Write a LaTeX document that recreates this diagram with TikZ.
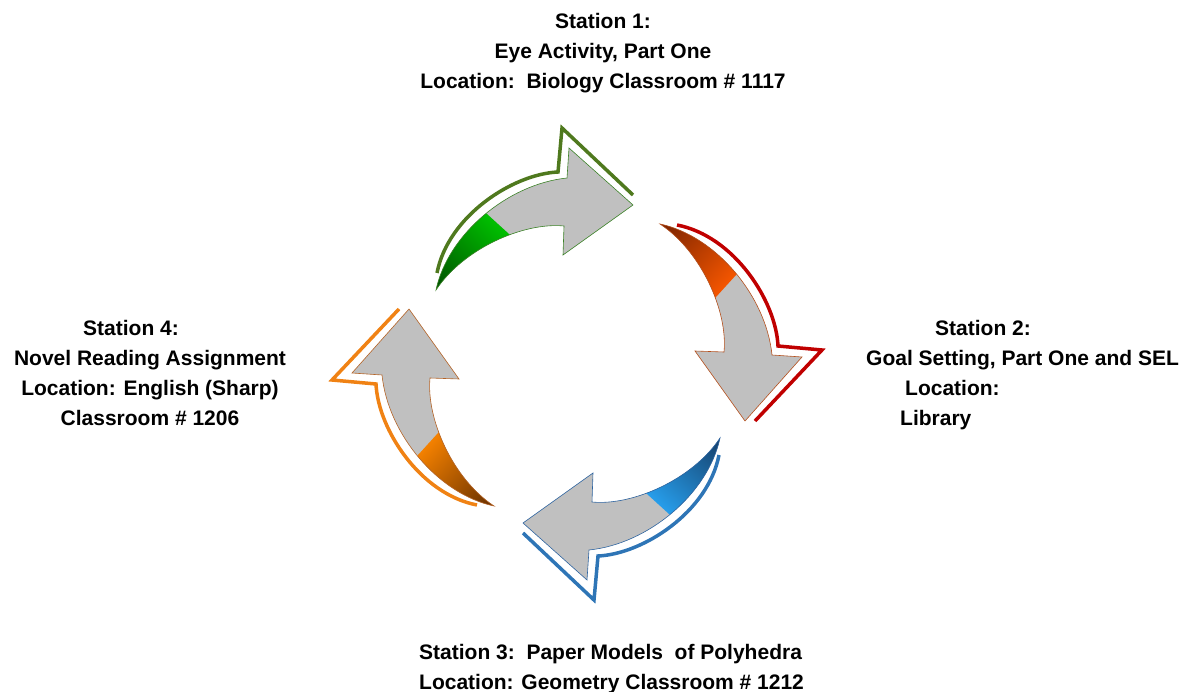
\documentclass[tikz,border=0pt]{standalone}
\usepackage{fontspec}
\setmainfont{Liberation Sans}
\usetikzlibrary{calc}

\definecolor{silver}{RGB}{192,192,192}
\definecolor{grdark}{RGB}{0,70,0}
\definecolor{grlight}{RGB}{0,200,0}
\definecolor{groutline}{RGB}{79,121,30}
\definecolor{gredge}{RGB}{60,130,40}
\definecolor{rddark}{RGB}{110,30,0}
\definecolor{rdlight}{RGB}{255,90,0}
\definecolor{rdoutline}{RGB}{192,0,0}
\definecolor{rdedge}{RGB}{180,80,30}
\definecolor{bldark}{RGB}{20,55,95}
\definecolor{bllight}{RGB}{40,165,245}
\definecolor{bloutline}{RGB}{46,117,182}
\definecolor{bledge}{RGB}{46,100,160}
\definecolor{ordark}{RGB}{90,40,0}
\definecolor{orlight}{RGB}{255,135,0}
\definecolor{oroutline}{RGB}{240,130,20}
\definecolor{oredge}{RGB}{180,100,40}

% body of one curved arrow, centre of the cycle at the origin
\newcommand{\cyclebody}{(-142,-74) .. controls (-130,-130) and (-70,-180) .. (-11,-186) -- (-9,-216) -- (55,-159) -- (-15,-109) -- (-14,-138) .. controls (-55,-142) and (-115,-115) .. cycle}

% #1 centre, #2 rotation, #3 dark, #4 bright, #5 outline, #6 edge, #7 shading angle
\newcommand{\cyclearrow}[7]{%
  \begin{scope}[shift={#1}, rotate=#2]
    \fill[silver] \cyclebody;
    \begin{scope}
      \clip \cyclebody;
      \shade[top color=#4, bottom color=#3, shading angle=#7] (-165,-70) -- (-102,-160) -- (-58,-120) -- (-140,-55) -- cycle;
    \end{scope}
    \draw[#6, line width=0.6pt] \cyclebody;
    \draw[#5, line width=3.5pt] (-141,-91) .. controls (-130,-148) and (-65,-190) .. (-20,-192) -- (-16,-236) -- (55,-169);
  \end{scope}}

\begin{document}
\begin{tikzpicture}[x=1pt,y=-1pt]
  \tikzstyle{station}=[font=\fontsize{21}{30}\selectfont\bfseries, inner sep=0pt, anchor=base]
  \useasboundingbox (0,0) rectangle (1188,692);
  \cyclearrow{(578,364)}{0}{grdark}{grlight}{groutline}{gredge}{-43}
  \cyclearrow{(586,366)}{-90}{rddark}{rdlight}{rdoutline}{rdedge}{-133}
  \cyclearrow{(578,364)}{-180}{bldark}{bllight}{bloutline}{bledge}{137}
  \cyclearrow{(568,364)}{-270}{ordark}{orlight}{oroutline}{oredge}{47}
  \node[station, align=center] (st1) at (603,89) {Station 1:\\Eye Activity, Part One\\Location:\ \ Biology Classroom \# 1117};
  \node[station, align=left, anchor=base west] (st2) at (866,425) {\hspace*{69pt}Station 2:\\Goal Setting, Part One and SEL\\\hspace*{39pt}Location:\\\hspace*{34pt}Library};
  \node[station, align=left, anchor=base west] (st3) at (419,689) {Station 3:\ \ Paper Models\ \ of Polyhedra\\Location: Geometry Classroom \# 1212};
  \node[station, align=center] (st4) at (150,425) {Station 4:\hspace*{38pt}\\Novel Reading Assignment\\Location: English (Sharp)\\Classroom \# 1206};
\end{tikzpicture}
\end{document}
